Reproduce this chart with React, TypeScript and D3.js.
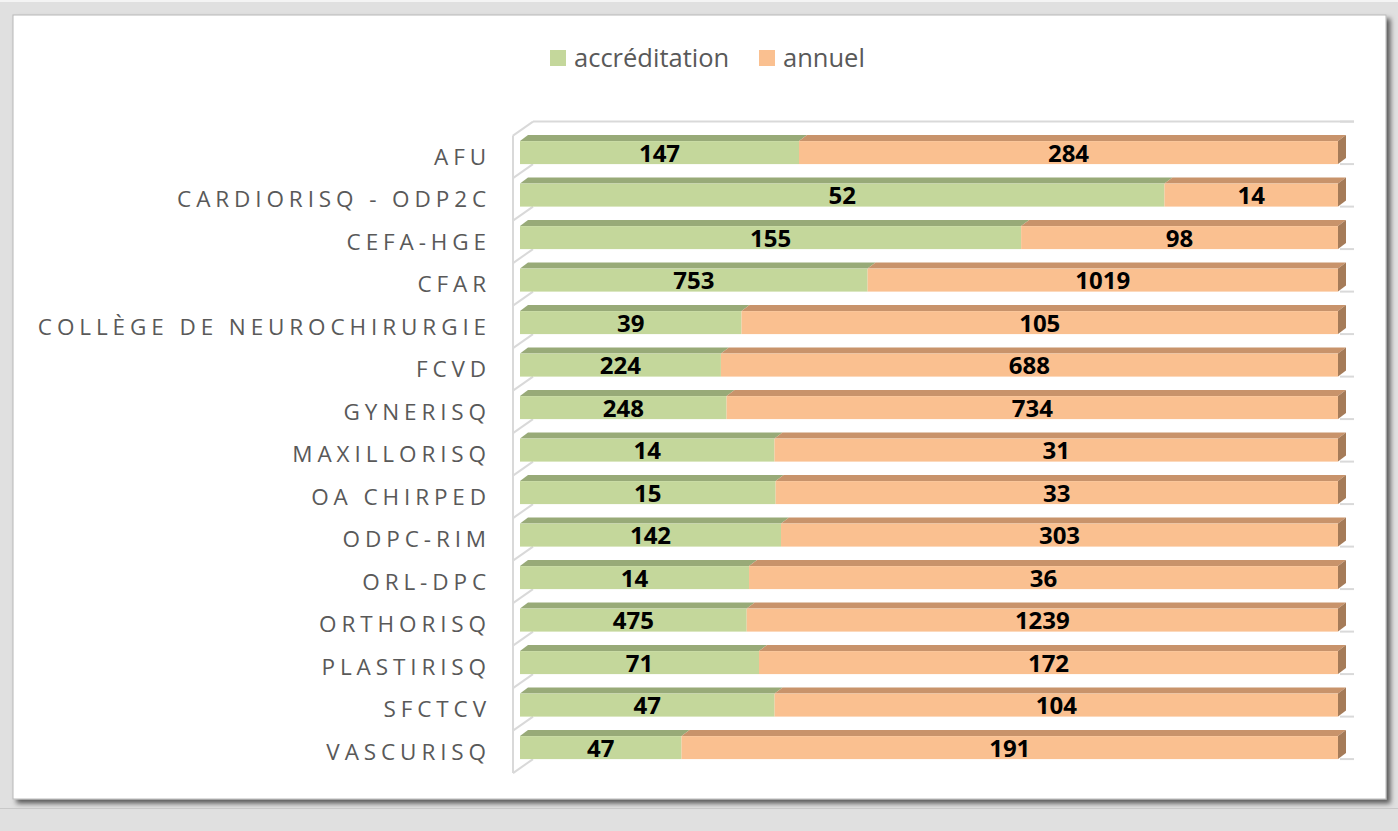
import React, { useEffect, useRef } from 'react';
import * as d3 from 'd3';

const categories = [
  'AFU',
  'CARDIORISQ - ODP2C',
  'CEFA-HGE',
  'CFAR',
  'COLLÈGE DE NEUROCHIRURGIE',
  'FCVD',
  'GYNERISQ',
  'MAXILLORISQ',
  'OA CHIRPED',
  'ODPC-RIM',
  'ORL-DPC',
  'ORTHORISQ',
  'PLASTIRISQ',
  'SFCTCV',
  'VASCURISQ',
];
const accreditation = [147, 52, 155, 753, 39, 224, 248, 14, 15, 142, 14, 475, 71, 47, 47];
const annuel = [284, 14, 98, 1019, 105, 688, 734, 31, 33, 303, 36, 1239, 172, 104, 191];
const seriesNames = ['accréditation', 'annuel'];

const W = 1398;
const H = 831;

const App = () => {
  const ref = useRef<SVGSVGElement | null>(null);

  useEffect(() => {
    if (!ref.current) return;
    const svg = d3.select(ref.current);
    svg.selectAll('*').remove();

    // page background + chart panel
    svg.append('rect').attr('width', W).attr('height', H).attr('fill', '#e0e0e0');
    svg.append('rect').attr('x', 0).attr('y', 0).attr('width', W).attr('height', 2).attr('fill', '#f4f4f4');
    const defs = svg.append('defs');
    const f = defs.append('filter').attr('id', 'sh').attr('x', '-5%').attr('y', '-5%').attr('width', '110%').attr('height', '110%');
    f.append('feDropShadow').attr('dx', 4).attr('dy', 4).attr('stdDeviation', 2.5).attr('flood-color', '#000').attr('flood-opacity', 0.6);
    svg.append('rect').attr('x', 13).attr('y', 15).attr('width', 1373).attr('height', 784)
      .attr('fill', '#fff').attr('stroke', '#b8b8b8').attr('stroke-width', 1).attr('filter', 'url(#sh)');
    svg.append('line').attr('x1', 0).attr('x2', W).attr('y1', 808.5).attr('y2', 808.5).attr('stroke', '#c8c8c8');

    const fontFam = '"Open Sans", "Noto Sans", sans-serif';

    // legend
    const colors = { front: ['#c4d79b', '#fac090'], top: ['#98aa78', '#c8936b'], side: ['#a57b58', '#a57b58'] };
    const legend = svg.append('g');
    const legendX = [550, 759];
    seriesNames.forEach((name, i) => {
      legend.append('rect').attr('x', legendX[i]).attr('y', 50).attr('width', 16).attr('height', 16).attr('fill', colors.front[i]);
      legend.append('text').attr('x', legendX[i] + 24).attr('y', 67).attr('font-family', fontFam)
        .attr('font-size', 25.5).attr('fill', '#595959').text(name);
    });

    const x = d3.scaleLinear().domain([0, 1]).range([520, 1338]);
    const y = d3.scaleBand().domain(categories).range([121.6, 759.1]).paddingInner(0).paddingOuter(0);
    const bw = y.bandwidth();
    const frontTop = 19.5;
    const dx = 8;
    const dy = 6;

    // 3D frame: left wall and category boundaries
    const frame = svg.append('g').attr('stroke', '#d9d9d9').attr('fill', 'none');
    const bounds = categories.map((c) => y(c) as number).concat([(y(categories[categories.length - 1]) as number) + bw]);
    frame.append('line').attr('x1', 513).attr('x2', 513).attr('y1', bounds[0] + 14).attr('y2', bounds[bounds.length - 1] + 14).attr('stroke-width', 2);
    frame.append('line').attr('x1', 533).attr('x2', 1354).attr('y1', bounds[0]).attr('y2', bounds[0]).attr('stroke-width', 2);
    bounds.forEach((b) => {
      frame.append('line').attr('x1', 513).attr('y1', b + 14).attr('x2', 533).attr('y2', b).attr('stroke-width', 2);
      frame.append('line').attr('x1', 1340).attr('y1', b).attr('x2', 1354).attr('y2', b).attr('stroke-width', 2);
    });

    // category labels
    svg.append('g').selectAll('text').data(categories).enter().append('text')
      .attr('x', 491).attr('y', (d) => (y(d) as number) + frontTop + (bw - frontTop) / 2 + 12)
      .attr('text-anchor', 'end').attr('font-family', fontFam).attr('font-size', 22.5)
      .attr('letter-spacing', 4.9).attr('fill', '#595959').text((d) => d);

    // stacked 100% bars
    const bars = svg.append('g');
    categories.forEach((c, i) => {
      const total = accreditation[i] + annuel[i];
      const vals = [accreditation[i], annuel[i]];
      const y0 = (y(c) as number) + frontTop;
      const y1 = (y(c) as number) + bw;
      let acc = 0;
      vals.forEach((v, s) => {
        const xa = x(acc / total);
        const xb = x((acc + v) / total);
        acc += v;
        bars.append('polygon')
          .attr('points', `${xa},${y0} ${xb},${y0} ${xb + dx},${y0 - dy} ${xa + dx},${y0 - dy}`)
          .attr('fill', colors.top[s]);
        bars.append('rect').attr('x', xa).attr('y', y0).attr('width', xb - xa).attr('height', y1 - y0).attr('fill', colors.front[s]);
        if (s === vals.length - 1) {
          bars.append('polygon')
            .attr('points', `${xb},${y0} ${xb + dx},${y0 - dy} ${xb + dx},${y1 - dy} ${xb},${y1}`)
            .attr('fill', colors.side[s]);
        }
        bars.append('text').attr('x', (xa + xb) / 2).attr('y', (y0 + y1) / 2 + 9)
          .attr('text-anchor', 'middle').attr('font-family', fontFam).attr('font-weight', 700)
          .attr('font-size', 24).attr('fill', '#000').text(v);
      });
    });
  }, []);

  return <svg ref={ref} width={W} height={H} style={{ position: 'absolute', left: 0, top: 0 }} />;
};

export default App;
